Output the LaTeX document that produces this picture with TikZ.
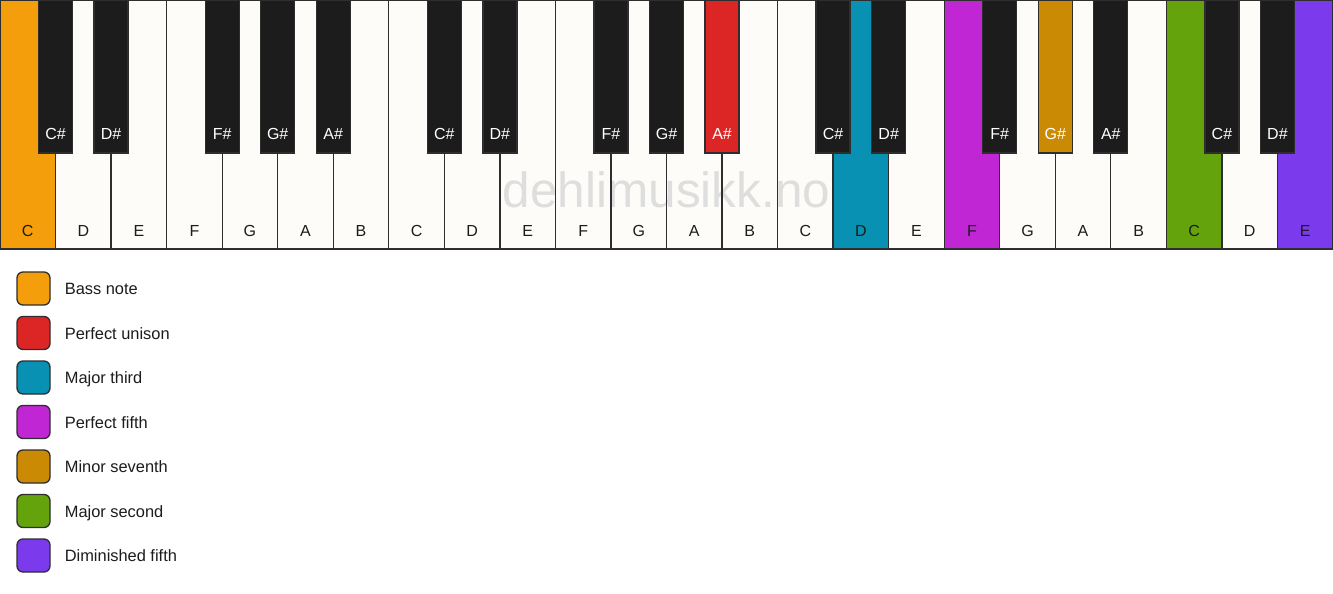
\documentclass[tikz,border=0pt]{standalone}
\usepackage{fontspec}
\setmainfont{Liberation Sans}
\definecolor{keyline}{HTML}{2E2E2E}
\definecolor{ivory}{HTML}{FDFCF9}
\definecolor{ebony}{HTML}{1C1C1C}
\definecolor{wmark}{HTML}{DEDEDE}
\definecolor{cbass}{HTML}{F59E0B}
\definecolor{cunison}{HTML}{DC2626}
\definecolor{cthird}{HTML}{0891B2}
\definecolor{cfifth}{HTML}{C026D3}
\definecolor{cseventh}{HTML}{CA8A04}
\definecolor{csecond}{HTML}{65A30D}
\definecolor{cdim}{HTML}{7C3AED}
\begin{document}
\begin{tikzpicture}[x=1pt,y=-1pt,
  whitekey/.style={rectangle,anchor=north west,inner sep=0pt,outer sep=0pt,
    minimum width=55.5417pt,minimum height=249pt,draw=none},
  blackkey/.style={rectangle,anchor=north,inner sep=0pt,outer sep=0pt,
    minimum width=34pt,minimum height=153pt,draw=keyline,line width=1.3pt},
  wlabel/.style={anchor=base,inner sep=0pt,text=ebony,font=\fontsize{16}{19}\selectfont},
  blabel/.style={anchor=base,inner sep=0pt,text=white,font=\fontsize{16}{19}\selectfont},
  legbox/.style={rectangle,rounded corners=6pt,minimum size=33pt,inner sep=0pt,
    draw=keyline,line width=1.3pt},
  legtext/.style={anchor=base west,inner sep=0pt,text=ebony,font=\fontsize{16.4}{19}\selectfont},
]
\useasboundingbox (0,0) rectangle (1333,594);
\fill[white] (0,0) rectangle (1333,594);
% white keys
\foreach \n/\c [count=\i from 0] in {C/cbass,D/ivory,E/ivory,F/ivory,G/ivory,A/ivory,B/ivory,
  C/ivory,D/ivory,E/ivory,F/ivory,G/ivory,A/ivory,B/ivory,
  C/ivory,D/cthird,E/ivory,F/cfifth,G/ivory,A/ivory,B/ivory,
  C/csecond,D/ivory,E/cdim}{
  \node[whitekey,fill=\c] (w\i) at ({\i*55.5417},0) {};
}
% watermark
\node[text=wmark,inner sep=0pt,font=\fontsize{49.5}{56}\selectfont,anchor=base] (wm) at (666.5,207) {dehlimusikk.no};
% white key outlines and labels
\foreach \n [count=\i from 0] in {C,D,E,F,G,A,B,C,D,E,F,G,A,B,C,D,E,F,G,A,B,C,D,E}{
  \draw[keyline,line width=1.3pt] (w\i.north west) rectangle (w\i.south east);
  \node[wlabel] (wl\i) at ([yshift=13pt]w\i.south) {\n};
}
% black keys
\foreach \b/\n/\c in {1/C/ebony,2/D/ebony,4/F/ebony,5/G/ebony,6/A/ebony,
  8/C/ebony,9/D/ebony,11/F/ebony,12/G/ebony,13/A/cunison,
  15/C/ebony,16/D/ebony,18/F/ebony,19/G/cseventh,20/A/ebony,
  22/C/ebony,23/D/ebony}{
  \node[blackkey,fill=\c] (b\b) at (w\b.north west) {};
  \node[blabel] (bl\b) at ([yshift=14pt]b\b.south) {\n\#};
}
% legend
\foreach \c/\t [count=\k from 0] in {cbass/Bass note,cunison/Perfect unison,cthird/Major third,
  cfifth/Perfect fifth,cseventh/Minor seventh,csecond/Major second,cdim/Diminished fifth}{
  \node[legbox,fill=\c] (lb\k) at (33.5,{288.5+\k*44.5}) {};
  \node[legtext] (lt\k) at ([xshift=14pt,yshift=-6pt]lb\k.east) {\t};
}
\end{tikzpicture}
\end{document}
